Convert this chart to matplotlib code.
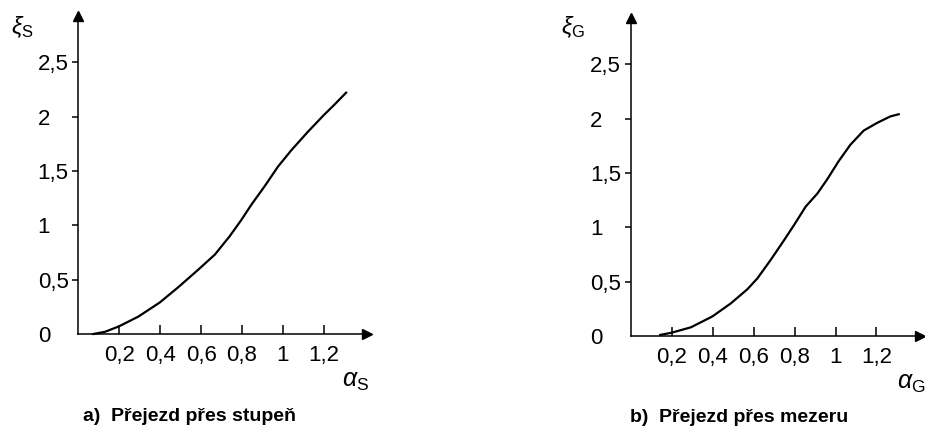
import numpy as np
import matplotlib.pyplot as plt

plt.rcParams['font.family'] = ['Liberation Sans', 'DejaVu Sans']
plt.rcParams['mathtext.fontset'] = 'custom'
plt.rcParams['mathtext.rm'] = 'Liberation Sans'
plt.rcParams['mathtext.it'] = 'Liberation Sans:italic'

# data
alpha_s = [0.073, 0.13, 0.198, 0.293, 0.398, 0.488, 0.585, 0.667, 0.740, 0.797,
           0.846, 0.911, 0.976, 1.041, 1.122, 1.198, 1.252, 1.309]
xi_s = [0.0, 0.02, 0.07, 0.16, 0.29, 0.43, 0.59, 0.73, 0.90, 1.05,
        1.19, 1.36, 1.54, 1.69, 1.86, 2.01, 2.11, 2.22]

alpha_g = [0.143, 0.198, 0.293, 0.398, 0.488, 0.569, 0.618, 0.683, 0.748, 0.797,
           0.854, 0.911, 0.959, 1.016, 1.073, 1.138, 1.203, 1.268, 1.309]
xi_g = [0.01, 0.03, 0.08, 0.18, 0.30, 0.43, 0.53, 0.70, 0.88, 1.02,
        1.19, 1.31, 1.44, 1.61, 1.76, 1.89, 1.96, 2.02, 2.04]

x_ticks = [0.2, 0.4, 0.6, 0.8, 1.0, 1.2]
x_labels = ['0,2', '0,4', '0,6', '0,8', '1', '1,2']
y_ticks = [0, 0.5, 1.0, 1.5, 2.0, 2.5]
y_labels = ['0', '0,5', '1', '1,5', '2', '2,5']

W, H = 925, 428
fig = plt.figure(figsize=(W / 100, H / 100), dpi=100)


def panel(x0, y0, x1, y1, xs, ys, xlab, ylab, caption, lab_pos, ylab_pos, cap_pos):
    # x0,y0 = origin pixel, x1 = right arrow tip, y1 = top arrow tip
    ax = fig.add_axes([x0 / W, 1 - y0 / H, (x1 - x0) / W, (y0 - y1) / H])
    ax.set_xlim(0, (x1 - x0) / 204.5)
    ax.set_ylim(0, (y0 - y1) / 108.7)
    ax.plot(xs, ys, color='black', lw=1.6, clip_on=False, solid_joinstyle='round')
    for s in ['top', 'right']:
        ax.spines[s].set_visible(False)
    for s in ['left', 'bottom']:
        ax.spines[s].set_linewidth(1.1)
    ax.plot(1, 0, '>k', ms=7, transform=ax.transAxes, clip_on=False)
    ax.plot(0, 1, '^k', ms=7, transform=ax.transAxes, clip_on=False)
    ax.set_xticks(x_ticks)
    ax.set_xticklabels(x_labels)
    ax.set_yticks(y_ticks)
    ax.set_yticklabels(y_labels)
    ax.tick_params(axis='x', direction='in', length=6.5, width=1.1, pad=8, labelsize=16)
    ax.tick_params(axis='y', direction='out', length=4.3, width=1.1, pad=25, labelsize=16)
    ax.yaxis.get_major_ticks()[0].tick1line.set_visible(False)
    for t in ax.get_yticklabels():
        t.set_ha('left')
    fig.text(lab_pos[0] / W, 1 - lab_pos[1] / H, xlab, fontsize=18, ha='left', va='baseline')
    fig.text(ylab_pos[0] / W, 1 - ylab_pos[1] / H, ylab, fontsize=17, ha='left', va='baseline')
    fig.text(cap_pos[0] / W, 1 - cap_pos[1] / H, caption, fontsize=14, fontweight='bold',
             ha='left', va='baseline')
    return ax


panel(78.4, 334, 367, 16, alpha_s, xi_s, r'$\alpha_{\mathrm{S}}$', r'$\xi_{\mathrm{S}}$',
      'a)  Přejezd přes stupeň', (342, 387), (11, 34), (83, 421))
panel(631, 336, 920, 18, alpha_g, xi_g, r'$\alpha_{\mathrm{G}}$', r'$\xi_{\mathrm{G}}$',
      'b)  Přejezd přes mezeru', (897, 389), (561, 34), (630, 422))

fig.savefig('out.png', dpi=100)
